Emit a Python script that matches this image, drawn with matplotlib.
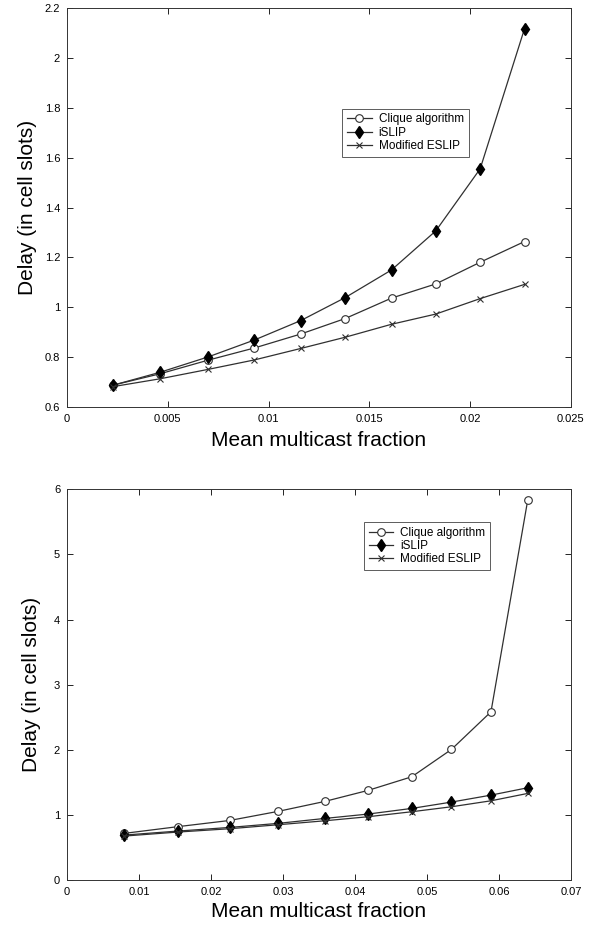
import matplotlib
matplotlib.use("Agg")
import matplotlib.pyplot as plt

plt.rcParams['font.family'] = ['Liberation Sans', 'DejaVu Sans']

labels = ["Clique algorithm", "iSLIP", "Modified ESLIP"]

x1 = [0.0023, 0.0046, 0.0070, 0.0093, 0.0116, 0.0138, 0.0161, 0.0183, 0.0205, 0.0227]
clique1 = [0.688, 0.733, 0.788, 0.837, 0.893, 0.955, 1.037, 1.094, 1.181, 1.264]
islip1 = [0.688, 0.739, 0.801, 0.869, 0.947, 1.039, 1.150, 1.307, 1.556, 2.118]
eslip1 = [0.682, 0.713, 0.751, 0.789, 0.835, 0.880, 0.932, 0.973, 1.035, 1.092]

x2 = [0.0079, 0.0154, 0.0226, 0.0293, 0.0358, 0.0418, 0.0479, 0.0534, 0.0589, 0.0640]
clique2 = [0.716, 0.820, 0.915, 1.054, 1.207, 1.376, 1.586, 2.005, 2.583, 5.83]
islip2 = [0.690, 0.752, 0.808, 0.870, 0.946, 1.013, 1.100, 1.197, 1.304, 1.417]
eslip2 = [0.675, 0.737, 0.788, 0.849, 0.910, 0.972, 1.049, 1.125, 1.217, 1.330]

xticks1 = [0, 0.005, 0.01, 0.015, 0.02, 0.025]
yticks1 = [0.6, 0.8, 1, 1.2, 1.4, 1.6, 1.8, 2, 2.2]
xticks2 = [0, 0.01, 0.02, 0.03, 0.04, 0.05, 0.06, 0.07]
yticks2 = [0, 1, 2, 3, 4, 5, 6]

fig = plt.figure(figsize=(5.99, 9.25), dpi=100)
ax1 = fig.add_axes([0.112, 0.56, 0.841, 0.431])
ax2 = fig.add_axes([0.112, 0.0486, 0.841, 0.4224])

lc = '#303030'

def draw(ax, x, c, i, e, xt, yt, xlim, ylim, legpos, ylx, xly):
    ax.plot(x, c, color=lc, lw=0.9, marker='o', ms=5.5, mfc='white', mec=lc, mew=0.8, label=labels[0])
    ax.plot(x, i, color=lc, lw=0.9, marker='d', ms=6, mfc='black', mec='black', label=labels[1])
    ax.plot(x, e, color=lc, lw=0.9, marker='x', ms=4.5, mec=lc, mew=0.8, label=labels[2])
    ax.set_xlim(*xlim)
    ax.set_ylim(*ylim)
    ax.set_xticks(xt)
    ax.set_yticks(yt)
    ax.set_xticklabels([('%g' % v) for v in xt])
    ax.set_yticklabels([('%g' % v) for v in yt])
    ax.tick_params(direction='in', top=True, right=True, labelsize=8, length=4, width=0.6, pad=5)
    for s in ax.spines.values():
        s.set_linewidth(0.7)
        s.set_color('#333333')
    ax.set_xlabel("Mean multicast fraction", fontsize=15)
    ax.set_ylabel("Delay (in cell slots)", fontsize=15)
    ax.yaxis.set_label_coords(ylx, 0.5)
    ax.xaxis.set_label_coords(0.5, xly)
    leg = ax.legend(loc='lower left', bbox_to_anchor=legpos, fontsize=8.5, frameon=True,
                    fancybox=False, edgecolor='#333333', borderpad=0.4, handlelength=2.1,
                    handletextpad=0.6, labelspacing=0.12, borderaxespad=0)
    leg.get_frame().set_linewidth(0.7)

draw(ax1, x1, clique1, islip1, eslip1, xticks1, yticks1, (0, 0.025), (0.6, 2.2), (0.546, 0.627), -0.06, -0.06)
draw(ax2, x2, clique2, islip2, eslip2, xticks2, yticks2, (0, 0.07), (0, 6), (0.589, 0.793), -0.052, -0.055)

fig.savefig("out.png", dpi=100)
